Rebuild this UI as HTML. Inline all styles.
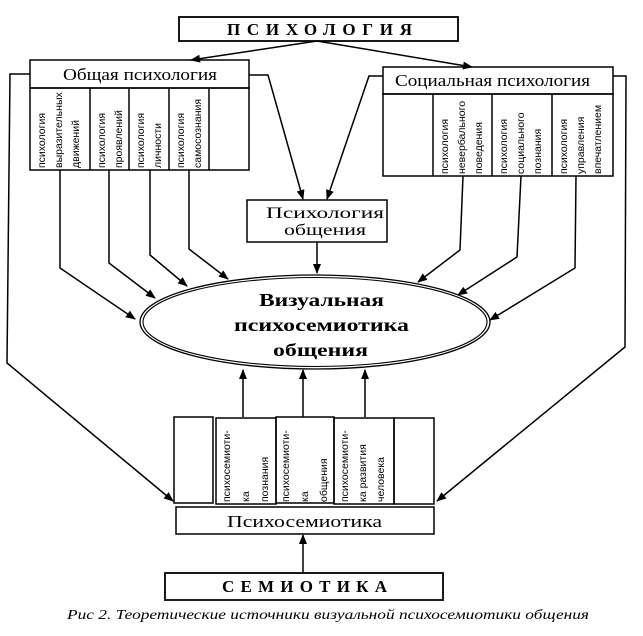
<!DOCTYPE html>
<html><head><meta charset="utf-8"><style>
html,body{margin:0;padding:0;background:#fff;}
svg{display:block;}
.t{font-family:"Liberation Serif","Noto Serif CJK SC",serif;}
.v{font-family:"Liberation Sans Narrow","Liberation Sans",sans-serif;font-size:10.5px;}
</style></head><body>
<svg width="643" height="636" viewBox="0 0 643 636" xmlns="http://www.w3.org/2000/svg">
<defs>
<marker id="a" viewBox="0 0 10 10" refX="9" refY="5" markerWidth="10" markerHeight="10" orient="auto-start-reverse" markerUnits="userSpaceOnUse">
<path d="M0,1 L10,5 L0,9 z" fill="#000"/></marker>
</defs>
<g fill="none" stroke="#000" stroke-width="1.5">
<rect x="179" y="17" width="279" height="24" stroke-width="1.8"/>
<line x1="317" y1="41" x2="191" y2="60" marker-end="url(#a)"/>
<line x1="317" y1="41" x2="472" y2="67" marker-end="url(#a)"/>
<rect x="30" y="60" width="219" height="28"/>
<rect x="30" y="88" width="219" height="82"/>
<line x1="90" y1="88" x2="90" y2="170"/><line x1="129" y1="88" x2="129" y2="170"/>
<line x1="169" y1="88" x2="169" y2="170"/><line x1="209" y1="88" x2="209" y2="170"/>
<rect x="383" y="67" width="230" height="27"/>
<rect x="383" y="94" width="230" height="82"/>
<line x1="433" y1="94" x2="433" y2="176"/><line x1="492" y1="94" x2="492" y2="176"/><line x1="552" y1="94" x2="552" y2="176"/>
<rect x="247" y="200" width="140" height="42"/>
<polyline points="249,75 268,75 303,199" marker-end="url(#a)"/>
<polyline points="383,76 369,76 327,199" marker-end="url(#a)"/>
<line x1="317" y1="242" x2="317" y2="273" marker-end="url(#a)"/>
<ellipse cx="315" cy="322" rx="175" ry="47" stroke-width="1.3"/>
<ellipse cx="315" cy="322" rx="172" ry="44.5" stroke-width="1.1"/>
<polyline points="60,170 60,268 135,319" marker-end="url(#a)"/>
<polyline points="109,170 109,263 155,298" marker-end="url(#a)"/>
<polyline points="150,170 150,255 187,286" marker-end="url(#a)"/>
<polyline points="189,170 189,249 228,279" marker-end="url(#a)"/>
<polyline points="463,176 460,250 418,282" marker-end="url(#a)"/>
<polyline points="521,176 517,257 458,295" marker-end="url(#a)"/>
<polyline points="576,176 575,268 490,320" marker-end="url(#a)"/>
<polyline points="30,74 10,74 7,363 173,501" marker-end="url(#a)"/>
<polyline points="613,76 626,76 625,347 437,501" marker-end="url(#a)"/>
<rect x="174" y="417" width="39" height="86"/>
<rect x="216" y="418" width="60" height="86"/>
<rect x="276" y="417" width="58" height="86"/>
<rect x="334" y="418" width="60" height="86"/>
<rect x="394" y="418" width="40" height="86"/>
<line x1="243" y1="417" x2="243" y2="370" marker-end="url(#a)"/>
<line x1="303" y1="417" x2="303" y2="370" marker-end="url(#a)"/>
<line x1="365" y1="417" x2="365" y2="370" marker-end="url(#a)"/>
<rect x="176" y="507" width="258" height="27"/>
<line x1="303" y1="573" x2="303" y2="535" marker-end="url(#a)"/>
<rect x="165" y="573" width="278" height="27" stroke-width="1.8"/>
</g>
<g class="t" fill="#000">
<text x="227" y="35" font-size="17" font-weight="bold" textLength="185" lengthAdjust="spacing">ПСИХОЛОГИЯ</text>
<text x="63" y="80" font-size="17" textLength="154" lengthAdjust="spacingAndGlyphs">Общая психология</text>
<text x="395" y="86" font-size="17" textLength="195" lengthAdjust="spacingAndGlyphs">Социальная психология</text>
<text x="266" y="218" font-size="16" textLength="118" lengthAdjust="spacingAndGlyphs">Психология</text>
<text x="284" y="235" font-size="16" textLength="82" lengthAdjust="spacingAndGlyphs">общения</text>
<text x="259" y="306" font-size="18" font-weight="bold" textLength="125" lengthAdjust="spacingAndGlyphs">Визуальная</text>
<text x="234" y="331" font-size="18" font-weight="bold" textLength="175" lengthAdjust="spacingAndGlyphs">психосемиотика</text>
<text x="273" y="356" font-size="18" font-weight="bold" textLength="95" lengthAdjust="spacingAndGlyphs">общения</text>
<text x="227" y="527" font-size="17" textLength="155" lengthAdjust="spacingAndGlyphs">Психосемиотика</text>
<text x="222" y="592" font-size="17" font-weight="bold" textLength="165" lengthAdjust="spacing">СЕМИОТИКА</text>
<text x="67" y="619" font-size="14" font-style="italic" textLength="522" lengthAdjust="spacingAndGlyphs">Рис 2. Теоретические источники визуальной психосемиотики  общения</text>
</g>
<g class="v" fill="#000">
<text transform="translate(45,168) rotate(-90)">психология</text>
<text transform="translate(62,168) rotate(-90)">выразительных</text>
<text transform="translate(79,168) rotate(-90)">движений</text>
<text transform="translate(105,168) rotate(-90)">психология</text>
<text transform="translate(122,168) rotate(-90)">проявлений</text>
<text transform="translate(144,168) rotate(-90)">психология</text>
<text transform="translate(161,168) rotate(-90)">личности</text>
<text transform="translate(184,168) rotate(-90)">психология</text>
<text transform="translate(201,168) rotate(-90)">самосознания</text>
<text transform="translate(448,174) rotate(-90)">психология</text>
<text transform="translate(465,174) rotate(-90)">невербального</text>
<text transform="translate(482,174) rotate(-90)">поведения</text>
<text transform="translate(507,174) rotate(-90)">психология</text>
<text transform="translate(524,174) rotate(-90)">социального</text>
<text transform="translate(541,174) rotate(-90)">познания</text>
<text transform="translate(567,174) rotate(-90)">психология</text>
<text transform="translate(584,174) rotate(-90)">управления</text>
<text transform="translate(601,174) rotate(-90)">впечатлением</text>
<text transform="translate(230,502) rotate(-90)">психосемиоти-</text>
<text transform="translate(249,502) rotate(-90)">ка</text>
<text transform="translate(268,502) rotate(-90)">познания</text>
<text transform="translate(289,502) rotate(-90)">психосемиоти-</text>
<text transform="translate(308,502) rotate(-90)">ка</text>
<text transform="translate(327,502) rotate(-90)">общения</text>
<text transform="translate(348,502) rotate(-90)">психосемиоти-</text>
<text transform="translate(366,502) rotate(-90)">ка развития</text>
<text transform="translate(384,502) rotate(-90)">человека</text>
</g>
</svg>
</body></html>
